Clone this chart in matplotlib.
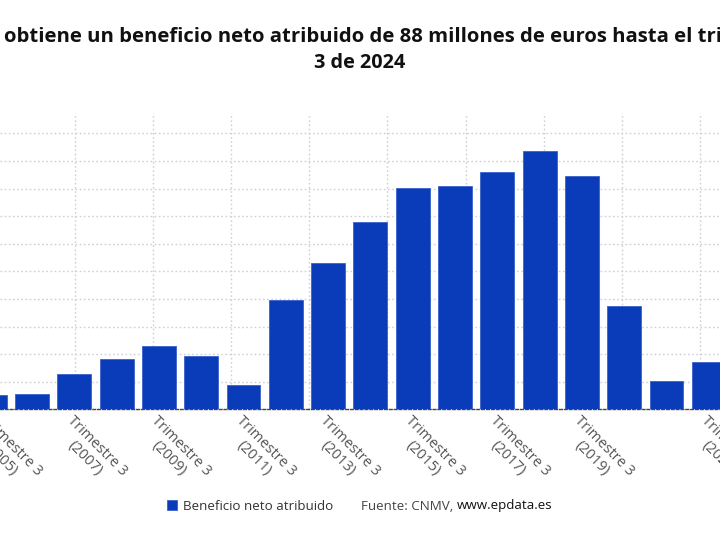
"""Beneficio neto atribuido, trimestre 3 de cada año"""

import numpy as np
import matplotlib
matplotlib.use("Agg")
import matplotlib.pyplot as plt
import matplotlib.transforms as mtransforms

# Data (millones de euros, approx.)
years = [2005, 2006, 2007, 2008, 2009, 2010, 2011, 2012, 2013,
         2014, 2015, 2016, 2017, 2018, 2019, 2020, 2021, 2022]
beneficio = [26, 28, 65, 92, 115, 96, 44, 199, 266,
             339, 401, 405, 431, 468, 423, 188, 52, 86]
label_years = [2005, 2007, 2009, 2011, 2013, 2015, 2017, 2019, 2022]
tick_labels = ["Trimestre 3\n(%d)" % y for y in label_years]

title_line1 = "obtiene un beneficio neto atribuido de 88 millones de euros hasta el trimestre"
title_line2 = "3 de 2024"
legend_label = "Beneficio neto atribuido"

BLUE = "#0a3bb8"

plt.rcParams["font.family"] = ["Open Sans", "DejaVu Sans"]

fig = plt.figure(figsize=(7.2, 5.4), dpi=100)
ax = fig.add_axes([0.0, 0.2417, 1.0, 0.549])

bars = ax.bar(years, beneficio, width=0.8, color=BLUE, edgecolor="#3a62cc",
              linewidth=0.6, label=legend_label, zorder=3)

ax.set_yticks(np.arange(50, 537, 50))
ax.set_yticklabels([])
ax.set_xticks(label_years)
ax.set_xticklabels([])
# vertical grid, independent of the categories
ax.set_xticks(np.arange(2007.02, 2022.3, 1.846), minor=True)
# limits after the ticks, so set_xticks does not widen the view
ax.set_xlim(2005.243, 2022.265)
ax.set_ylim(0, 537)
ax.tick_params(axis="both", which="both", length=0)
ax.grid(axis="y", color="#cfcfd6", linestyle=(0, (1.2, 1.8)), linewidth=1)
ax.grid(axis="x", which="minor", color="#cfcfd6", linestyle=(0, (1.2, 1.8)), linewidth=1)
ax.set_axisbelow(True)

# category labels as texts, so the ones at the cut edges still show
lab_trans = mtransforms.offset_copy(ax.get_xaxis_transform(), fig=fig, y=-3, units="points")
for yr, lab in zip(label_years, tick_labels):
    ax.text(yr, 0, lab, transform=lab_trans, rotation=-45, ha="left", va="top",
            rotation_mode="anchor", multialignment="center", fontsize=10.5,
            color="#555555", clip_on=False)

for side in ["top", "left", "right"]:
    ax.spines[side].set_visible(False)
ax.spines["bottom"].set_color("#444444")
ax.spines["bottom"].set_linestyle((0, (2, 1.5)))
ax.spines["bottom"].set_linewidth(1)

# title (the original is wider than the visible area)
fig.text(4 / 720, 1 - 37 / 540, title_line1, ha="left", va="center",
         fontsize=14.6, fontweight="bold", color="#111111")
fig.text(360 / 720, 1 - 63 / 540, title_line2, ha="center", va="center",
         fontsize=14.3, fontweight="bold", color="#111111")

# legend + source
fig.legend(handles=[bars], loc="center left", bbox_to_anchor=(155 / 720, 1 - 506 / 540),
           frameon=False, fontsize=9.6, handlelength=0.75, handleheight=0.75,
           handletextpad=0.45, labelcolor="#333333")
src = fig.text(361 / 720, 1 - 506 / 540, "Fuente: CNMV, ", ha="left", va="center",
               fontsize=9.6, color="#444444")
fig.canvas.draw()
bb = src.get_window_extent()
fig.text(bb.x1 / 720, 1 - 506 / 540, "www.epdata.es", ha="left", va="center",
         fontsize=9.6, color="#111111")

fig.savefig("out.png", dpi=100)
